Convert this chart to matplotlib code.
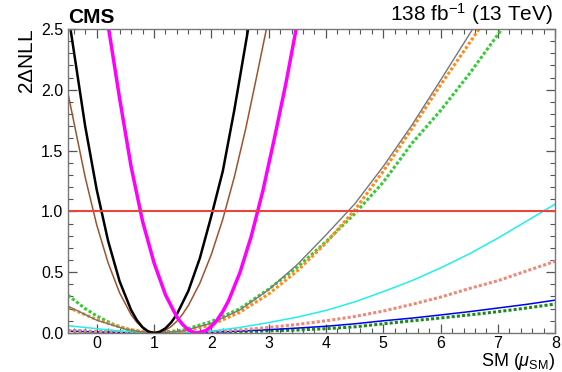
import matplotlib
matplotlib.use("Agg")
import matplotlib.pyplot as plt
from matplotlib.ticker import MultipleLocator

plt.rcParams['font.family'] = ['Liberation Sans', 'DejaVu Sans']
plt.rcParams['mathtext.fontset'] = 'custom'
plt.rcParams['mathtext.rm'] = 'Liberation Sans'
plt.rcParams['mathtext.it'] = 'Liberation Sans:italic'

# likelihood scans, (mu, 2dNLL) pairs
x_black = [-0.45, -0.2, 0.0, 0.2, 0.4, 0.6, 0.7, 0.8, 0.9, 1.0, 1.1, 1.2, 1.3, 1.4, 1.6, 1.8, 2.0, 2.2, 2.4, 2.65]
y_black = [2.48, 1.70, 1.18, 0.756, 0.425, 0.189, 0.106, 0.047, 0.012, 0.0, 0.0096, 0.038, 0.0865, 0.154, 0.346, 0.615, 0.961, 1.33, 1.83, 2.52]

x_brown = [-0.5, -0.2, 0.0, 0.2, 0.4, 0.6, 0.7, 0.8, 0.9, 1.02, 1.1, 1.2, 1.3, 1.4, 1.5, 1.6, 1.8, 2.0, 2.2, 2.4, 2.6, 2.8, 3.0]
y_brown = [1.97, 1.28, 0.89, 0.576, 0.33, 0.151, 0.088, 0.041, 0.012, 0.0, 0.004, 0.022, 0.053, 0.097, 0.155, 0.226, 0.409, 0.645, 0.935, 1.28, 1.68, 2.13, 2.59]

x_magenta = [0.2, 0.4, 0.6, 0.8, 1.0, 1.2, 1.4, 1.5, 1.6, 1.7, 1.76, 1.9, 2.0, 2.1, 2.2, 2.3, 2.5, 2.7, 2.9, 3.1, 3.3, 3.5]
y_magenta = [2.53, 1.93, 1.37, 0.92, 0.578, 0.314, 0.13, 0.069, 0.026, 0.004, 0.0, 0.018, 0.052, 0.105, 0.176, 0.264, 0.497, 0.80, 1.17, 1.60, 2.05, 2.55]

x_gray = [-0.5, 0.0, 0.5, 0.8, 1.1, 1.5, 2.0, 2.5, 3.0, 3.5, 4.0, 4.5, 5.0, 5.5, 6.0, 6.6]
y_gray = [0.221, 0.105, 0.031, 0.008, 0.0, 0.016, 0.079, 0.19, 0.355, 0.5625, 0.806, 1.06, 1.37, 1.71, 2.08, 2.53]

x_orange = [-0.5, 0.0, 0.5, 0.8, 1.15, 1.5, 2.0, 2.5, 3.0, 3.5, 4.0, 4.5, 5.0, 5.5, 6.0, 6.7]
y_orange = [0.21, 0.11, 0.035, 0.011, 0.0, 0.011, 0.066, 0.17, 0.32, 0.51, 0.74, 1.01, 1.33, 1.68, 2.04, 2.52]

x_lime = [-0.5, -0.2, 0.0, 0.3, 0.6, 1.0, 1.5, 2.0, 2.5, 3.0, 3.5, 4.0, 4.5, 5.0, 5.5, 6.0, 6.5, 7.1]
y_lime = [0.31, 0.20, 0.14, 0.068, 0.022, 0.0, 0.022, 0.094, 0.20, 0.36, 0.54, 0.75, 0.98, 1.24, 1.56, 1.83, 2.13, 2.52]

x_wide = [-0.5, 0.0, 0.5, 1.0, 1.5, 2.0, 2.5, 3.0, 3.5, 4.0, 4.5, 5.0, 5.5, 6.0, 6.5, 7.0, 7.5, 8.0]
y_cyan = [0.06, 0.035, 0.012, 0.002, 0.001, 0.015, 0.045, 0.085, 0.13, 0.185, 0.255, 0.34, 0.43, 0.535, 0.65, 0.78, 0.92, 1.06]
y_salmon = [0.02, 0.012, 0.005, 0.001, 0.0, 0.01, 0.025, 0.045, 0.07, 0.1, 0.135, 0.18, 0.235, 0.295, 0.365, 0.43, 0.51, 0.59]
y_blue = [0.015, 0.008, 0.003, 0.0, 0.0, 0.005, 0.015, 0.027, 0.04, 0.055, 0.075, 0.1, 0.122, 0.148, 0.175, 0.205, 0.235, 0.27]
y_dgreen = [0.02, 0.01, 0.004, 0.0, 0.0, 0.003, 0.01, 0.017, 0.024, 0.035, 0.05, 0.075, 0.1, 0.123, 0.148, 0.175, 0.205, 0.238]

fig = plt.figure(figsize=(5.62, 3.72), dpi=100)
ax = fig.add_axes([0.121, 0.105, 0.867, 0.817])

dots = (0, (1, 0.7))
ax.plot(x_wide, y_dgreen, color='#1a8a1a', lw=2.2, ls=dots)
ax.plot(x_wide, y_blue, color='#0000ee', lw=1.1)
ax.plot(x_wide, y_salmon, color='#f08878', lw=2.2, ls=dots)
ax.plot(x_wide, y_cyan, color='#22eeee', lw=1.1)
ax.plot(x_lime, y_lime, color='#33cc33', lw=2.2, ls=dots)
ax.plot(x_orange, y_orange, color='#ff8c1a', lw=2.2, ls=dots)
ax.plot(x_gray, y_gray, color='#777777', lw=1.0)
ax.plot(x_brown, y_brown, color='#a0522d', lw=1.1)
ax.plot(x_black, y_black, color='black', lw=1.8)
ax.plot(x_magenta, y_magenta, color='#ff00ff', lw=2.5)
ax.axhline(1.0, color='#e8453c', lw=1.5)

ax.set_xlim(-0.5, 8)
ax.set_ylim(0, 2.5)
ax.xaxis.set_major_locator(MultipleLocator(1))
ax.xaxis.set_minor_locator(MultipleLocator(0.2))
ax.yaxis.set_major_locator(MultipleLocator(0.5))
ax.yaxis.set_minor_locator(MultipleLocator(0.1))
ax.tick_params(which='both', direction='in', top=True, right=True,
               color='#555555', labelsize=11.5)
ax.tick_params(axis='x', which='both', pad=2)
ax.tick_params(which='major', length=6.5, width=0.9)
ax.tick_params(which='minor', length=3.6, width=0.8)
for s in ax.spines.values():
    s.set_color('#777777')
    s.set_linewidth(1.0)

ax.set_xlabel(r'SM ($\mu_{\mathrm{SM}}$)', fontsize=13, loc='right', labelpad=0)
ax.set_ylabel(r'2$\Delta$NLL', fontsize=15, loc='top', labelpad=3)

ax.text(0.0, 1.005, 'CMS', transform=ax.transAxes, fontsize=15,
        fontweight='bold', ha='left', va='bottom')
ax.text(0.995, 1.005, r'138 fb$^{-1}$ (13 TeV)', transform=ax.transAxes,
        fontsize=15, ha='right', va='bottom')

fig.savefig('out.png', dpi=100)
